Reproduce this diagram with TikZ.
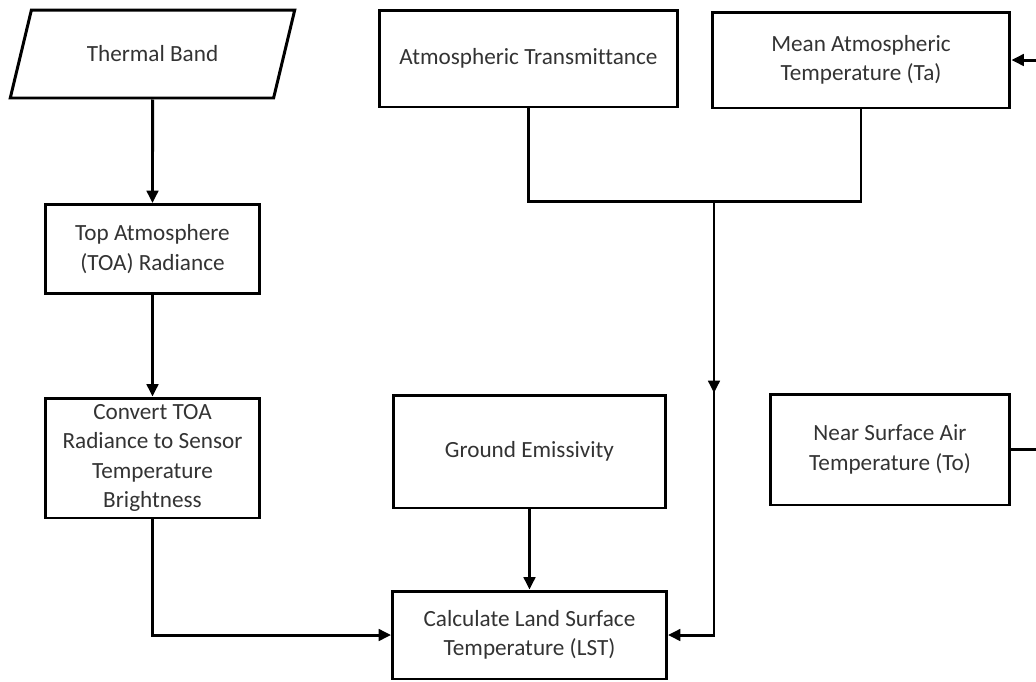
\documentclass[tikz,border=0pt]{standalone}
\usepackage{fontspec}
\setmainfont{Carlito}[Ligatures=NoCommon]
\usetikzlibrary{arrows.meta,shapes.geometric}

\tikzset{
  box/.style={draw=black, line width=1.7pt, align=center, inner sep=2pt,
    font=\fontsize{13.2}{16.8}\selectfont, text=black!80},
  link/.style={draw=black, line width=1.7pt, -{Triangle[length=7pt,width=6.5pt]}},
  plain/.style={draw=black, line width=1.7pt}
}

\begin{document}
\begin{tikzpicture}[x=0.02cm, y=-0.02cm]
  \useasboundingbox (0,0) rectangle (1036,681);
  \clip (0,0) rectangle (1036,681);
  % input band
  \node[box, trapezium, trapezium left angle=62.6, trapezium right angle=117.4,
        trapezium stretches=true, minimum width=5.7cm, minimum height=1.76cm]
        (band) at (152.5,54) {Thermal Band};
  % left column
  \node[box, minimum width=4.3cm, minimum height=1.78cm] (toa) at (152.5,249)
        {Top Atmosphere\\(TOA) Radiance};
  \node[box, minimum width=4.3cm, minimum height=2.4cm] (conv) at (152.5,458)
        {Convert TOA\\Radiance to Sensor\\Temperature\\Brightness};
  % top row
  \node[box, minimum width=5.98cm, minimum height=1.94cm] (trans) at (528.5,58.5)
        {Atmospheric Transmittance};
  \node[box, minimum width=5.96cm, minimum height=1.92cm] (mean) at (861,60)
        {Mean Atmospheric\\Temperature (Ta)};
  % middle row
  \node[box, minimum width=5.44cm, minimum height=2.26cm] (ground) at (529.5,451.5)
        {Ground Emissivity};
  \node[box, minimum width=4.8cm, minimum height=2.22cm] (near) at (890,449.5)
        {Near Surface Air\\Temperature (To)};
  % output
  \node[box, minimum width=5.48cm, minimum height=1.76cm] (lst) at (529.5,635)
        {Calculate Land Surface\\Temperature (LST)};

  \coordinate (join) at (714,201);
  \coordinate (mid) at (714,393);
  \coordinate (edge) at (1045,60);

  \draw[link] (band.south) -- (toa.north);
  \draw[link] (toa.south) -- (conv.north);
  \draw[link] (conv.south) |- (lst.west);
  \draw[link] (ground.south) -- (lst.north);
  \draw[plain] (trans.south) |- (join) -| (mean.south);
  \draw[link] (join) |- (lst.east);
  \draw[link] (join) -- (mid);
  \draw[link] (near.east) -| (edge) -- (mean.east);
\end{tikzpicture}
\end{document}
